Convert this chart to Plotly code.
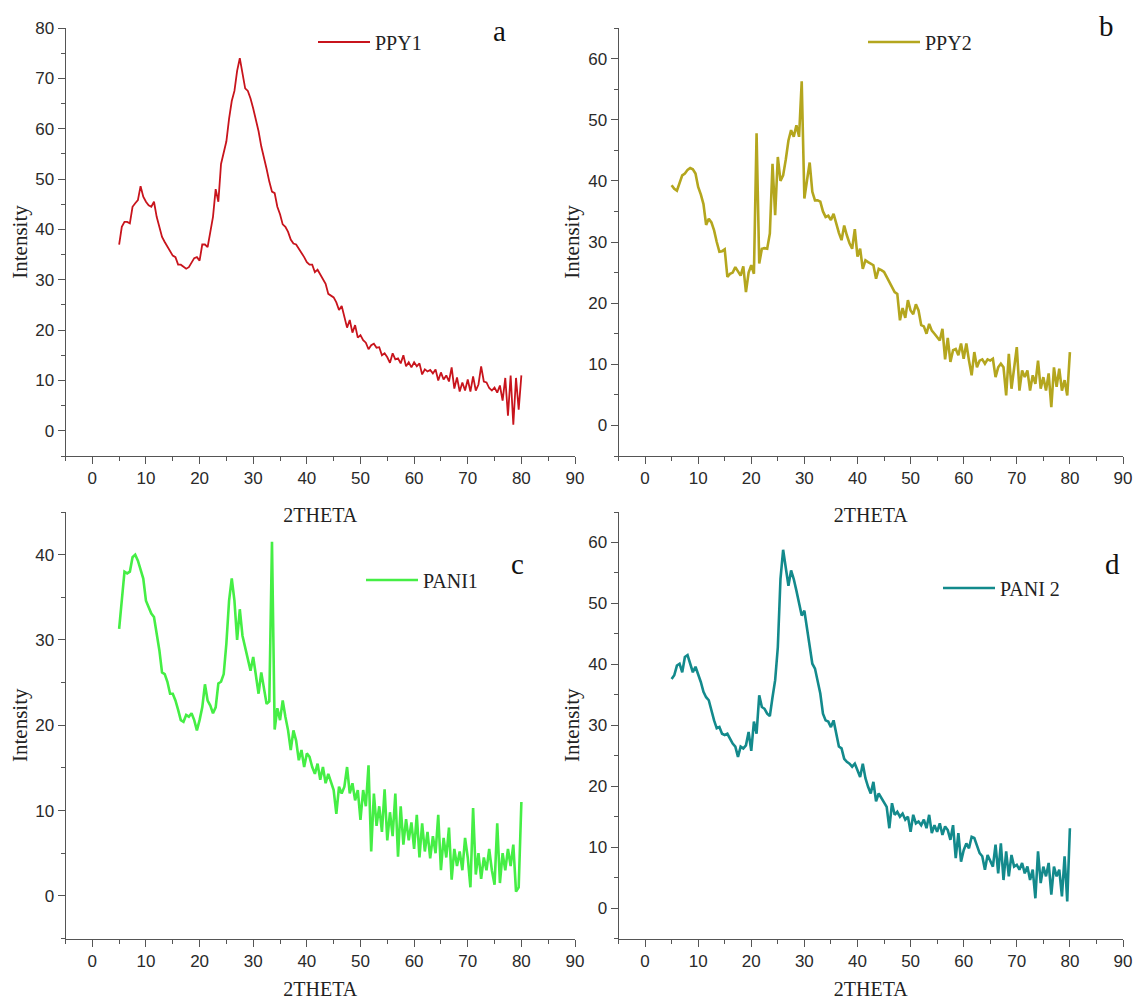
import plotly.graph_objects as go

# 2-theta sampling grid (degrees)
two_theta = [
    5.0, 5.5, 6.0, 6.5, 7.0, 7.5, 8.0, 8.5, 9.0, 9.5,
    10.0, 10.5, 11.0, 11.5, 12.0, 12.5, 13.0, 13.5, 14.0, 14.5,
    15.0, 15.5, 16.0, 16.5, 17.0, 17.5, 18.0, 18.5, 19.0, 19.5,
    20.0, 20.5, 21.0, 21.5, 22.0, 22.5, 23.0, 23.5, 24.0, 24.5,
    25.0, 25.5, 26.0, 26.5, 27.0, 27.5, 28.0, 28.5, 29.0, 29.5,
    30.0, 30.5, 31.0, 31.5, 32.0, 32.5, 33.0, 33.5, 34.0, 34.5,
    35.0, 35.5, 36.0, 36.5, 37.0, 37.5, 38.0, 38.5, 39.0, 39.5,
    40.0, 40.5, 41.0, 41.5, 42.0, 42.5, 43.0, 43.5, 44.0, 44.5,
    45.0, 45.5, 46.0, 46.5, 47.0, 47.5, 48.0, 48.5, 49.0, 49.5,
    50.0, 50.5, 51.0, 51.5, 52.0, 52.5, 53.0, 53.5, 54.0, 54.5,
    55.0, 55.5, 56.0, 56.5, 57.0, 57.5, 58.0, 58.5, 59.0, 59.5,
    60.0, 60.5, 61.0, 61.5, 62.0, 62.5, 63.0, 63.5, 64.0, 64.5,
    65.0, 65.5, 66.0, 66.5, 67.0, 67.5, 68.0, 68.5, 69.0, 69.5,
    70.0, 70.5, 71.0, 71.5, 72.0, 72.5, 73.0, 73.5, 74.0, 74.5,
    75.0, 75.5, 76.0, 76.5, 77.0, 77.5, 78.0, 78.5, 79.0, 79.5,
    80.0,
]

ppy1 = [
    37, 40.5, 41.5, 41.5, 41.2, 44.5, 45.2, 45.8, 48.6, 46.5,
    45.5, 44.8, 44.5, 45.5, 42.5, 40.5, 38.5, 37.5, 36.5, 35.5,
    34.8, 34.5, 33, 33, 32.5, 32.2, 32.5, 33.5, 34.3, 34.5,
    33.8, 37, 37, 36.5, 39.5, 42.5, 48, 45.5, 53, 55.5,
    57.5, 62, 65.5, 67.5, 71.5, 74, 71, 68, 67.5, 66,
    64, 62, 59.5, 56.5, 54.5, 52, 49.5, 47.5, 47.2, 44.5,
    43, 41, 40.5, 39.5, 38, 37.2, 37, 36.2, 35.5, 34.5,
    33.5, 33, 33, 31.5, 32, 31, 30, 29.2, 27.2, 26.8,
    26.5, 25.5, 24, 24.8, 22.5, 20.5, 22, 19.5, 21, 18.5,
    19, 18, 17.5, 16.2, 17, 17.3, 16.5, 16.6, 15, 15.4,
    14.6, 13.5, 15.4, 14.2, 14.4, 13.4, 15, 12.8, 13.6, 12.6,
    13.6, 12.8, 13.4, 11.2, 12.2, 11.8, 12.1, 11.4, 12.2, 10,
    11.6, 10.2, 11, 9.8, 12.6, 8.4, 10.6, 7.8, 9.6, 8,
    10.2, 7.8, 10.8, 8, 9.2, 12.8, 9.8, 9.6, 8.5, 8,
    8.6, 7.6, 9, 6, 10.5, 3, 11, 1.2, 10.5, 4.2,
    11,
]

ppy2 = [
    39.3, 38.7, 38.4, 39.5, 40.9, 41.2, 41.8, 42.1, 41.9, 41.2,
    39, 37.8, 36.2, 32.8, 33.8, 33.2, 31.9, 30, 28.4, 28.5,
    28.8, 24.3, 24.8, 25, 25.9, 25.2, 24.5, 26, 21.8, 25,
    26.2, 24.8, 47.8, 26.5, 28.9, 29, 28.9, 31.4, 42.8, 34.4,
    43.9, 40, 40.9, 43.5, 46.6, 48.3, 47.2, 49.1, 47.2, 56.3,
    37.1, 40.1, 43, 38.2, 36.8, 36.8, 36.6, 35, 34.1, 34.3,
    33.6, 34.6, 33, 31.5, 30.3, 32.7, 31.1, 29.8, 28.9, 32.1,
    27.6, 28.9, 25.6, 27, 26.7, 26.5, 26.2, 24, 25.6, 25.4,
    25.1, 24.3, 23.5, 22.6, 21.8, 21.5, 17.2, 19.2, 17.6, 20.5,
    18.8, 18.2, 19.8, 18.8, 16.4, 16.2, 15, 16.6, 15.5, 15,
    14.5, 13.9, 15.8, 10.8, 14.3, 10.4, 12.3, 12.5, 11.5, 13.4,
    10.9, 13.4, 10.6, 8.2, 12, 9.5, 10.6, 10.8, 10.1, 10.8,
    10.6, 10.9, 7.9, 9.5, 10.1, 9.5, 4.9, 11.7, 6, 9.8,
    12.8, 5.7, 9, 7.9, 9, 5.7, 8.2, 6.8, 10.6, 6,
    7.9, 5.7, 8.5, 3, 9.5, 6.3, 9.3, 5.7, 7.4, 4.9,
    12,
]

pani1 = [
    31.3, 35, 38, 37.8, 38, 39.7, 40, 39.3, 38.2, 37.2,
    34.6, 33.9, 33.1, 32.7, 30.9, 28.8, 26.2, 26, 25.1, 23.7,
    23.7, 22.9, 21.8, 20.6, 20.4, 21.2, 21, 21.4, 20.6, 19.4,
    20.6, 22.1, 24.8, 22.9, 22.3, 21.4, 22.1, 24.9, 25.1, 26,
    29.6, 34.6, 37.2, 34.6, 30, 33.6, 30.5, 29.2, 28, 26.4,
    28, 25.7, 23.7, 26.2, 24.5, 22.5, 22.8, 41.5, 19.5, 22,
    20.6, 22.9, 21, 19.4, 17.1, 19.4, 18.2, 15.9, 17.1, 15.1,
    16.7, 16.3, 15.1, 14.3, 15.5, 13.6, 15.1, 13.2, 14.3, 13.2,
    12.4, 9.6, 12.8, 12, 12.8, 15.1, 12, 13.2, 11.2, 12.4,
    8.9, 12.4, 10.5, 15.3, 5.2, 12, 8.2, 10.5, 7.5, 12.5,
    6.5, 9.8, 7, 12, 4.6, 10.5, 6, 9, 6.5, 8.6,
    5.5, 9.5, 4.5, 8.5, 5.2, 7.5, 4.4, 7, 5, 9.5,
    3, 6.8, 4.5, 8, 1.9, 5.5, 3.5, 5.2, 3, 6.8,
    4.5, 1, 10.3, 2.5, 5, 2, 4.5, 3, 5.5, 3,
    1.3, 8.5, 1.5, 5, 3, 5.5, 3.5, 6, 0.5, 1,
    11,
]

pani2 = [
    37.6, 38.2, 39.8, 40.1, 38.7, 41.2, 41.5, 40.1, 38.7, 39.6,
    38.5, 37.1, 35.5, 34.6, 34.1, 32.2, 30.8, 29.5, 29.7, 28.6,
    28.4, 28.6, 27.8, 27, 26.5, 24.8, 26.5, 26.2, 26.7, 28.9,
    25.8, 30.6, 28.6, 34.9, 33, 32.7, 31.9, 31.5, 34.6, 37.4,
    42.8, 54, 58.8, 55.9, 52.9, 55.4, 54, 52.1, 49.9, 48,
    48.8, 46.1, 43.4, 40.1, 39.3, 37.4, 35.2, 31.9, 30.8, 30.6,
    29.7, 30.8, 28.6, 26.5, 26.2, 24.5, 24, 23.7, 23.2, 23.7,
    22.6, 21.5, 23.7, 21.3, 19.9, 18.8, 20.7, 17.5, 18.8, 18,
    17.2, 16.6, 13.1, 17.2, 15.3, 15.8, 15, 15.5, 14.5, 15,
    12.5, 15.3, 13.9, 14.2, 13.6, 14.5, 13.1, 15.3, 12.3, 13.6,
    12.5, 13.9, 12, 13.4, 12.8, 11.2, 13.6, 8.2, 12.3, 7.6,
    9.5, 10.6, 9.8, 11.7, 11.5, 10.4, 9, 8.5, 6.3, 8.7,
    7.6, 6.8, 10.4, 5.7, 10.6, 4.6, 9.3, 5.2, 8.7, 6.8,
    7.1, 6.3, 7.4, 5.7, 6.8, 4.6, 6.3, 1.6, 9.3, 4.1,
    6.8, 5.2, 7.4, 2.2, 6.8, 5.2, 6.3, 1.9, 8.5, 1.1,
    13.1,
]

series_names = ["PPY1", "PPY2", "PANI1", "PANI 2"]
series_values = [ppy1, ppy2, pani1, pani2]
series_colors = ["#C8141C", "#B4A61E", "#45EE45", "#138A8C"]
series_widths = [1.8, 2.6, 2.6, 2.6]
panel_letters = ["a", "b", "c", "d"]
y_ranges = [[-5, 80], [-5, 65], [-5, 45], [-5, 65]]
x_range = [-5, 90]
x_title = "2THETA"
y_title = "Intensity"

# the page body adds an 8px margin around the figure
OFF = 8
W, H = 1145 - 2 * OFF, 1008 - 2 * OFF
SERIF = "Liberation Serif, Times New Roman, serif"
SANS = "Liberation Sans, Arial, sans-serif"


def fx(px):
    return (px - OFF) / W


def fy(py):
    return 1 - (py - OFF) / H


# panel geometry in window pixels: (left, right, top, bottom)
panels = [
    (65.5, 575, 28, 456),
    (618.5, 1123, 28, 456),
    (65.5, 575, 512, 938.5),
    (618.5, 1123, 512, 938.5),
]
legend_pos = [(313, 42), (863, 42), (361, 580), (938, 588)]
letter_pos = [(499, 31), (1106, 26), (517, 564), (1112, 564)]

fig = go.Figure()
layout = {}
for i in range(4):
    sfx = "" if i == 0 else str(i + 1)
    legname = "legend" + sfx
    fig.add_trace(go.Scatter(
        x=two_theta, y=series_values[i], mode="lines", name=series_names[i],
        line=dict(color=series_colors[i], width=series_widths[i]),
        xaxis="x" + sfx, yaxis="y" + sfx, legend=legname, showlegend=True,
    ))
    l, r, t, b = panels[i]
    axis_common = dict(
        showline=True, linecolor="#555555", linewidth=1, mirror=False,
        showgrid=False, zeroline=False, ticks="outside", tickcolor="#555555",
        tickwidth=1, tickfont=dict(family=SANS, size=17, color="#2a2a2a"),
        automargin=False,
    )
    layout["xaxis" + sfx] = dict(
        axis_common, domain=[fx(l), fx(r)], range=x_range, dtick=10, tick0=0,
        ticklen=7, anchor="y" + sfx,
        minor=dict(dtick=5, tick0=0, ticks="outside", ticklen=4, tickcolor="#555555"),
        title=dict(text=x_title, font=dict(family=SERIF, size=20, color="#222222"), standoff=20),
    )
    layout["yaxis" + sfx] = dict(
        axis_common, domain=[fy(b), fy(t)], range=y_ranges[i], dtick=10, tick0=0,
        ticklen=7, anchor="x" + sfx,
        minor=dict(dtick=5, tick0=0, ticks="outside", ticklen=4, tickcolor="#555555"),
        title=dict(text=y_title, font=dict(family=SERIF, size=21, color="#222222"), standoff=2),
    )
    lx, ly = legend_pos[i]
    layout[legname] = dict(
        x=fx(lx), y=fy(ly), xanchor="left", yanchor="middle",
        bgcolor="rgba(0,0,0,0)", borderwidth=0, itemwidth=52,
        font=dict(family=SERIF, size=20, color="#222222"),
    )

annotations = []
for i in range(4):
    px, py = letter_pos[i]
    annotations.append(dict(
        text=panel_letters[i], x=fx(px), y=fy(py), xref="paper", yref="paper",
        showarrow=False, xanchor="center", yanchor="middle",
        font=dict(family=SERIF, size=29, color="#111111"),
    ))

fig.update_layout(
    width=W, height=H, margin=dict(l=0, r=0, t=0, b=0),
    paper_bgcolor="white", plot_bgcolor="white",
    annotations=annotations, **layout,
)

fig.write_html("out.html")
